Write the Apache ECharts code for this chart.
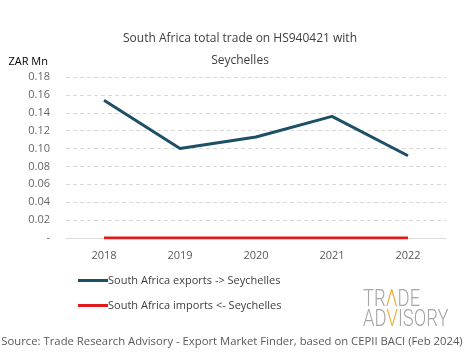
<!DOCTYPE html>
<html><head><meta charset="utf-8">
<script src="https://cdn.jsdelivr.net/npm/echarts@6/dist/echarts.min.js"></script>
<style>html,body{margin:0;padding:0;background:#fff}#c{width:465px;height:359px}</style>
</head><body><div id="c"></div>
<script>
const years = ['2018','2019','2020','2021','2022'];
const exportsVals = [0.154, 0.100, 0.113, 0.136, 0.092];
const importsVals = [0, 0, 0, 0, 0];
const seriesNames = ['South Africa exports -> Seychelles', 'South Africa imports <- Seychelles'];
const titleText = 'South Africa total trade on HS940421 with\n\nSeychelles';
const sourceText = 'Source: Trade Research Advisory - Export Market Finder, based on CEPII BACI (Feb 2024)';
const font = '"Open Sans", sans-serif';
const chart = echarts.init(document.getElementById('c'));
chart.setOption({
  animation: false,
  title: { text: titleText, left: 235, top: 28, textAlign: 'center',
    textStyle: { fontFamily: font, fontSize: 12, fontWeight: 'normal', color: '#404040', lineHeight: 11 } },
  grid: { left: 66, right: 19, top: 77, bottom: 121 },
  xAxis: { type: 'category', data: years, boundaryGap: true,
    axisLine: { lineStyle: { color: '#d9d9d9' } }, axisTick: { show: false },
    axisLabel: { color: '#595959', fontFamily: font, fontSize: 11, margin: 12 } },
  yAxis: { type: 'value', min: 0, max: 0.18, interval: 0.02, name: 'ZAR Mn',
    nameLocation: 'end', nameGap: 10,
    nameTextStyle: { color: '#000', fontFamily: font, fontSize: 11, align: 'right', padding: [0, 18, 0, 0] },
    axisLine: { show: false }, axisTick: { show: false },
    axisLabel: { color: '#666', fontFamily: font, fontSize: 11, margin: 16,
      formatter: v => v === 0 ? '-' : v.toFixed(2) },
    splitLine: { lineStyle: { color: '#d9d9d9', type: [4, 3] } } },
  legend: { orient: 'vertical', left: 73, top: 270, itemGap: 14, itemWidth: 30, itemHeight: 3,
    icon: 'rect', textStyle: { color: '#404040', fontFamily: font, fontSize: 11, padding: [0,0,0,-5] },
    data: seriesNames },
  series: [
    { name: seriesNames[0], type: 'line', data: exportsVals, symbol: 'none',
      lineStyle: { color: '#1d4f66', width: 3 }, itemStyle: { color: '#1d4f66' } },
    { name: seriesNames[1], type: 'line', data: importsVals, symbol: 'none',
      lineStyle: { color: '#e31a1c', width: 3 }, itemStyle: { color: '#e31a1c' } }
  ],
  graphic: [
    { type: 'text', x: 232, y: 336, style: { text: sourceText, fill: '#595959', font: '11.3px ' + font, align: 'center' } },
    { type: 'text', x: 363, y: 290, scaleX: 0.8, style: {
      text: '{g|TR}{o|Λ}{g|DE}\n{g|AD}{o|V}{g|ISORY}',
      rich: { g: { fill: '#a6a6a6', fontFamily: 'Roboto', fontWeight: 300, fontSize: 23, lineHeight: 20 },
              o: { fill: '#f0a830', fontFamily: 'Roboto', fontWeight: 300, fontSize: 23, lineHeight: 20 } } } }
  ]
});
</script></body></html>
